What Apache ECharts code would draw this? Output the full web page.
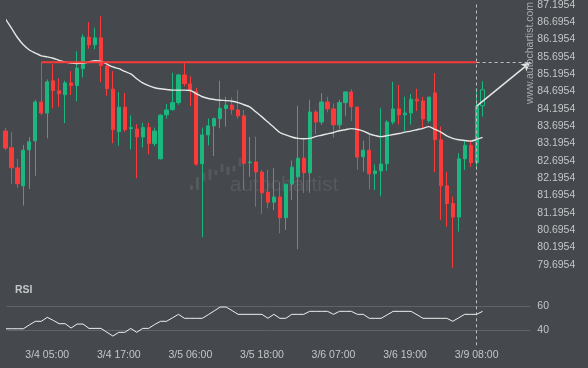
<!DOCTYPE html>
<html>
<head>
<meta charset="utf-8">
<script src="https://cdn.jsdelivr.net/npm/echarts@6/dist/echarts.min.js"></script>
<style>
html,body{margin:0;padding:0;background:#45484c;}
#c{width:588px;height:368px;}
</style>
</head>
<body>
<div id="c"></div>
<script>
// ---- data ----
// candles: [open, close, low, high], one per hourly bar
const candles = [
  [83.55,83.06,83.00,83.64],[83.07,82.49,82.02,83.52],[82.49,82.03,81.91,82.75],[81.97,83.00,81.40,83.15],
  [83.01,83.24,81.88,83.38],[83.27,84.39,82.26,84.45],[84.39,84.07,84.01,85.54],[84.07,84.97,83.34,85.04],
  [85.00,84.72,84.21,85.48],[84.71,84.63,84.25,85.07],[84.60,84.94,83.78,85.00],[84.94,84.86,84.59,85.28],
  [84.86,85.37,84.41,85.85],[85.35,86.26,85.10,86.34],[86.26,86.04,85.93,86.69],[86.04,86.24,85.91,86.53],
  [86.24,85.44,84.96,86.86],[85.43,84.77,84.57,85.45],[84.76,83.59,83.20,85.28],[83.53,84.24,83.13,84.67],
  [84.24,83.59,83.53,84.65],[83.62,83.65,83.02,84.00],[83.61,83.38,82.19,83.75],[83.38,83.65,83.08,83.79],
  [83.65,83.19,82.88,83.79],[83.19,83.55,83.12,83.65],[82.75,84.01,82.73,84.03],[84.02,84.16,83.91,84.33],
  [84.17,84.37,84.14,85.23],[84.37,85.17,84.31,85.20],[85.17,84.92,84.84,85.56],[84.91,84.73,84.27,85.13],
  [84.69,82.60,82.55,84.80],[82.61,83.44,80.49,83.65],[83.44,83.70,83.14,83.91],[83.70,83.91,82.83,83.94],
  [83.91,84.20,83.63,85.00],[84.20,84.30,83.68,84.54],[84.30,84.17,84.03,84.52],[84.16,83.99,83.91,84.73],
  [83.99,82.62,81.85,84.16],[82.64,82.66,82.23,83.38],[82.66,82.37,81.37,83.39],[82.37,81.77,81.16,82.43],
  [81.79,81.50,81.32,82.43],[81.50,81.65,81.27,82.48],[81.65,81.05,80.60,82.06],[81.05,82.02,80.70,82.02],
  [82.02,82.51,81.56,82.70],[82.23,82.77,80.14,84.28],[82.77,82.35,81.76,83.31],[82.35,84.10,81.77,84.45],
  [84.10,83.81,83.46,84.16],[83.81,84.39,83.73,84.64],[84.39,84.19,84.09,84.54],[84.19,83.73,83.36,84.35],
  [83.73,84.37,83.60,84.45],[84.37,84.68,83.99,84.69],[84.68,84.25,83.84,84.76],[84.24,82.80,82.43,84.26],
  [82.81,83.00,82.38,83.27],[83.00,82.32,81.87,83.46],[82.32,82.40,81.85,82.59],[82.40,82.60,81.67,84.21],
  [82.61,83.81,82.40,83.86],[83.81,84.19,83.74,84.97],[84.19,84.02,83.74,84.88],[84.02,84.07,83.56,84.54],
  [84.07,84.47,83.74,84.62],[84.47,84.42,84.13,84.77],[84.42,83.90,83.64,84.54],[83.85,84.53,83.79,84.53],
  [84.65,83.30,82.36,85.22],[83.30,81.97,80.99,83.68],[81.97,81.46,80.79,82.37],[81.46,81.07,79.61,81.66],
  [81.07,82.75,80.65,82.91],[82.75,83.14,82.43,83.26],[83.14,82.64,82.52,83.29],[82.64,84.27,82.43,84.78],
  [84.28,84.74,83.97,84.99]
];
// moving average
const maValues = [
  86.78,86.52,86.25,86.04,85.89,85.80,85.72,85.69,85.65,85.59,
  85.54,85.51,85.50,85.51,85.54,85.58,85.56,85.48,85.40,85.35,
  85.27,85.20,85.06,84.94,84.86,84.80,84.77,84.75,84.73,84.73,
  84.73,84.72,84.63,84.54,84.49,84.46,84.44,84.43,84.41,84.37,
  84.31,84.24,84.10,83.96,83.81,83.66,83.51,83.44,83.38,83.34,
  83.33,83.34,83.39,83.43,83.47,83.51,83.56,83.59,83.62,83.60,
  83.55,83.47,83.42,83.39,83.42,83.45,83.48,83.52,83.55,83.59,
  83.63,83.68,83.60,83.52,83.41,83.34,83.30,83.28,83.26,83.31,
  83.37
];
// RSI
const rsiValues = [
  41.3,41.3,41.3,41.3,44.5,47.5,47.5,50.8,48.3,45.5,
  45.5,41.9,45.2,45.2,41.6,41.6,41.6,38.4,35.2,38.3,
  38.3,41.6,38.3,41.6,41.6,44.8,47.5,47.5,50.4,53.3,
  50,50,50,50,53,56.2,59.4,59.4,56.4,53.3,
  53.3,53.3,53.3,53.3,50,53.3,50,50,53.3,53.3,
  53.3,55.8,55.8,55.8,55.8,53.3,55.8,55.8,55.8,53.3,
  53.3,50,50,50,52.9,55.8,55.8,55.8,55.8,53,
  50,50,50,50,50,47.5,50.4,53.3,53.3,53.3,
  55.8
];
const xTickLabels = ['3/4 05:00','3/4 17:00','3/5 06:00','3/5 18:00','3/6 07:00','3/6 19:00','3/9 08:00'];
const xTickIndex = [7,19,31,43,55,67,79];
const yTickLabels = ['87.1954','86.6954','86.1954','85.6954','85.1954','84.6954','84.1954','83.6954','83.1954','82.6954','82.1954','81.6954','81.1954','80.6954','80.1954','79.6954'];
const rsiTickLabels = [40, 60];
const resistanceLevel = 85.534;
const resistanceStart = 6;
const breakoutIndex = 79;
const lastCandleIndex = 80;

// ---- styling ----
const GREEN = '#1bb77f', RED = '#fb3a3a', TXT = '#c4c6c8', FONT = '"Liberation Sans", Arial, sans-serif';
const X_MIN = 0.2, X_MAX = 88;

const candleData = candles.map((c, i) => {
  const v = [i].concat(c);
  if (i === lastCandleIndex) return {value: v, itemStyle: {color: 'rgba(0,0,0,0)', borderColor: GREEN}};
  return v;
});

const chart = echarts.init(document.getElementById('c'), null, {renderer: 'canvas'});
chart.setOption({
  backgroundColor: '#45484c',
  animation: false,
  textStyle: {fontFamily: FONT},
  title: {text: 'RSI', left: 15, top: 285, padding: 0,
    textStyle: {fontSize: 10.5, fontWeight: 'bold', color: '#c4c6c8', fontFamily: FONT}},
  grid: [
    {left: 6.7, right: 57.7, top: 4.54, height: 277.36, outerBoundsMode: 'none'},
    {left: 6.7, right: 57.7, top: 282.3, height: 64.8, outerBoundsMode: 'none'}
  ],
  xAxis: [
    {type: 'value', gridIndex: 0, min: X_MIN, max: X_MAX, show: false},
    {type: 'value', gridIndex: 1, min: X_MIN, max: X_MAX,
      axisLine: {show: false}, axisTick: {show: false}, splitLine: {show: false},
      axisLabel: {customValues: xTickIndex, margin: 3, color: TXT, fontSize: 10.5, fontFamily: FONT,
        formatter: v => xTickLabels[xTickIndex.indexOf(Math.round(v))] || ''}}
  ],
  yAxis: [
    {type: 'value', gridIndex: 0, position: 'right', min: 79.2, max: 87.2,
      axisLine: {show: false}, axisTick: {show: false}, splitLine: {show: false},
      axisLabel: {customValues: yTickLabels.map(Number), margin: 7, color: TXT, fontSize: 10.5, fontFamily: FONT,
        formatter: v => v.toFixed(4)}},
    {type: 'value', gridIndex: 1, position: 'right', min: 26, max: 80,
      axisLine: {show: false}, axisTick: {show: false}, splitLine: {show: false},
      axisLabel: {customValues: rsiTickLabels, margin: 7, color: TXT, fontSize: 10.5, fontFamily: FONT}}
  ],
  series: [
    {type: 'candlestick', xAxisIndex: 0, yAxisIndex: 0, data: candleData, barWidth: 3.7, clip: true,
      itemStyle: {color: GREEN, color0: RED, borderColor: GREEN, borderColor0: RED, borderWidth: 1}, z: 2},
    {type: 'line', xAxisIndex: 0, yAxisIndex: 0, data: maValues.map((v, i) => [i, v]),
      showSymbol: false, smooth: 0.3, clip: true, lineStyle: {color: '#e6e6e6', width: 1.4}, z: 3},
    {type: 'line', xAxisIndex: 0, yAxisIndex: 0,
      data: [[resistanceStart, resistanceLevel], [breakoutIndex, resistanceLevel]],
      showSymbol: false, lineStyle: {color: RED, width: 2}, z: 4,
      markLine: {silent: true, symbol: ['none', 'none'], label: {show: false}, animation: false,
        data: [
          [{xAxis: breakoutIndex, yAxis: 87.2}, {xAxis: breakoutIndex, yAxis: 79.2}],
          [{coord: [breakoutIndex, resistanceLevel]}, {coord: [X_MAX, resistanceLevel]}],
          [{coord: [breakoutIndex, candles[breakoutIndex][1]], lineStyle: {type: 'solid', color: '#e6e6e6', width: 1.5}},
           {coord: [X_MAX, resistanceLevel], symbol: 'arrow', symbolSize: [7, 9]}]
        ],
        lineStyle: {type: [3, 3], color: '#bfbfbf', width: 1}}},
    {type: 'line', xAxisIndex: 1, yAxisIndex: 1, data: rsiValues.map((v, i) => [i, v]),
      showSymbol: false, lineStyle: {color: '#f0f0f0', width: 1}, z: 6,
      markLine: {silent: true, symbol: ['none', 'none'], label: {show: false}, animation: false,
        data: [
          {yAxis: rsiTickLabels[0], lineStyle: {type: 'solid', color: '#606368', width: 1}},
          {yAxis: rsiTickLabels[1], lineStyle: {type: 'solid', color: '#606368', width: 1}},
          [{xAxis: breakoutIndex, yAxis: 80}, {xAxis: breakoutIndex, yAxis: 26}]
        ],
        lineStyle: {type: [3, 3], color: '#bfbfbf', width: 1}}}
  ],
  graphic: [
    {type: 'text', x: 530, y: 53, rotation: Math.PI / 2, silent: true, z: 10,
      style: {text: 'www.autochartist.com', fill: '#a9abae', font: '10.5px ' + FONT, align: 'center', verticalAlign: 'middle'}},
    {type: 'group', silent: true, z: 0, children: [
      {type: 'text', x: 284, y: 185, style: {text: 'autochartist', fill: 'rgba(255,255,255,0.09)', font: '21px ' + FONT, align: 'center', verticalAlign: 'middle'}},
      {type: 'rect', shape: {x: 190, y: 185, width: 3, height: 5, r: 1}, style: {fill: 'rgba(255,255,255,0.09)'}},
      {type: 'rect', shape: {x: 196, y: 177, width: 3, height: 13, r: 1}, style: {fill: 'rgba(255,255,255,0.09)'}},
      {type: 'rect', shape: {x: 202.5, y: 172.5, width: 3, height: 9, r: 1}, style: {fill: 'rgba(255,255,255,0.09)'}},
      {type: 'rect', shape: {x: 208.5, y: 169, width: 3, height: 11, r: 1}, style: {fill: 'rgba(255,255,255,0.09)'}},
      {type: 'rect', shape: {x: 214.5, y: 170, width: 3, height: 5, r: 1}, style: {fill: 'rgba(255,255,255,0.09)'}},
      {type: 'rect', shape: {x: 220.5, y: 164, width: 3, height: 8, r: 1}, style: {fill: 'rgba(255,255,255,0.09)'}},
      {type: 'rect', shape: {x: 226.5, y: 166.5, width: 3, height: 8.5, r: 1}, style: {fill: 'rgba(255,255,255,0.09)'}},
      {type: 'rect', shape: {x: 232.5, y: 165.5, width: 3, height: 6, r: 1}, style: {fill: 'rgba(255,255,255,0.09)'}},
      {type: 'rect', shape: {x: 238.5, y: 158, width: 3, height: 8.5, r: 1}, style: {fill: 'rgba(255,255,255,0.09)'}}
    ]}
  ]
});
</script>
</body>
</html>
